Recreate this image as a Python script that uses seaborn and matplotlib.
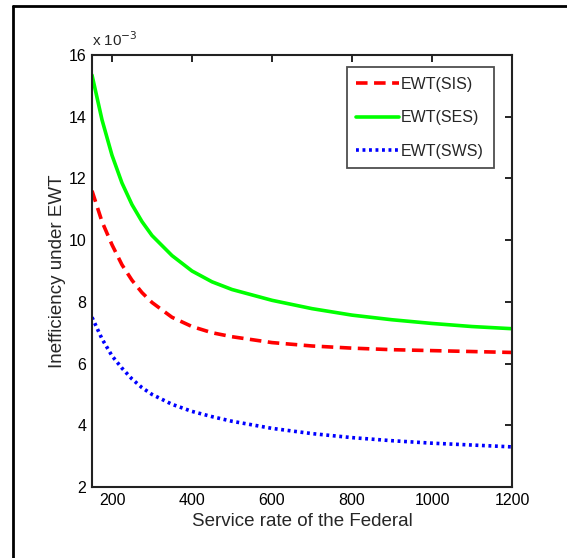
import matplotlib
matplotlib.use("Agg")
import matplotlib.pyplot as plt
import seaborn as sns
import pandas as pd
from matplotlib.lines import Line2D

# Data (values in units of 1e-3)
service_rate = [150, 175, 200, 225, 250, 275, 300, 350, 400, 450, 500, 600, 700, 800, 900, 1000, 1100, 1200]
ewt_sis = [11.6, 10.6, 9.85, 9.2, 8.7, 8.3, 7.98, 7.5, 7.2, 7.0, 6.87, 6.68, 6.57, 6.5, 6.45, 6.42, 6.39, 6.36]
ewt_ses = [15.35, 13.9, 12.75, 11.85, 11.15, 10.6, 10.15, 9.5, 9.0, 8.65, 8.4, 8.05, 7.78, 7.57, 7.42, 7.3, 7.2, 7.13]
ewt_sws = [7.5, 6.8, 6.25, 5.85, 5.5, 5.22, 5.0, 4.68, 4.45, 4.28, 4.13, 3.9, 3.73, 3.6, 3.5, 3.42, 3.36, 3.3]
series_names = ["EWT(SIS)", "EWT(SES)", "EWT(SWS)"]
x_ticks = [200, 400, 600, 800, 1000, 1200]
y_ticks = [2, 4, 6, 8, 10, 12, 14, 16]

sns.set_style("white")
plt.rcParams['font.family'] = ['Liberation Sans', 'DejaVu Sans']

fig = plt.figure(figsize=(5.67, 5.58), dpi=100)
ax = fig.add_axes([92 / 567, 1 - 487 / 558, (512 - 92) / 567, (487 - 55) / 558])

df = pd.DataFrame({"x": service_rate, "sis": ewt_sis, "ses": ewt_ses, "sws": ewt_sws})
sns.lineplot(data=df, x="x", y="sis", ax=ax, color="#ff0000", linewidth=2.6,
             linestyle=(0, (3.2, 1.8)), label=series_names[0])
sns.lineplot(data=df, x="x", y="ses", ax=ax, color="#00ff00", linewidth=2.6,
             linestyle="-", label=series_names[1])
sns.lineplot(data=df, x="x", y="sws", ax=ax, color="#0000ff", linewidth=2.6,
             linestyle=(0, (0.8, 1.0)), label=series_names[2])

ax.set_xlim(150, 1200)
ax.set_ylim(2, 16)
ax.set_xticks(x_ticks)
ax.set_yticks(y_ticks)
ax.tick_params(direction="in", length=5, width=1.2, top=True, right=True,
               labelsize=11.5, colors="black", pad=4)
for s in ax.spines.values():
    s.set_visible(True)
    s.set_linewidth(1.5)
    s.set_color("#222222")

ax.set_xlabel("Service rate of the Federal", fontsize=13.5, labelpad=4)
ax.set_ylabel("Inefficiency under EWT", fontsize=13.5, labelpad=2)
ax.text(0.0, 1.015, "x 10$^{-3}$", transform=ax.transAxes, fontsize=11,
        ha="left", va="bottom")

leg = ax.legend(loc="upper right", bbox_to_anchor=(0.975, 0.99), fontsize=11.5,
                frameon=True, fancybox=False, handlelength=2.7, handletextpad=0.1,
                labelspacing=1.15, borderpad=0.6)
leg.get_frame().set_edgecolor("#222222")
leg.get_frame().set_linewidth(1.3)

# Outer frame (left and top edges visible)
fig.add_artist(Line2D([13 / 567, 13 / 567], [0, 1 - 6 / 558], transform=fig.transFigure,
                      color="black", linewidth=2))
fig.add_artist(Line2D([13 / 567, 1], [1 - 6 / 558, 1 - 6 / 558], transform=fig.transFigure,
                      color="black", linewidth=2))

fig.savefig("out.png", dpi=100)
